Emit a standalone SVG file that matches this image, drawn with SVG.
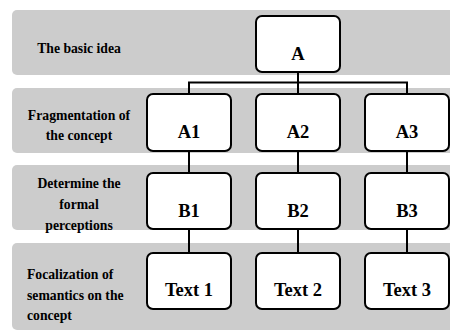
<svg xmlns="http://www.w3.org/2000/svg" width="450" height="331" viewBox="0 0 450 331">
<style>
.band{fill:#cccccc}
.lbl{font-family:"Liberation Serif","Times New Roman",serif;font-weight:bold;font-size:13.7px;fill:#000}
.box{fill:#fff;stroke:#000;stroke-width:2}
.nt{font-family:"Liberation Serif","Times New Roman",serif;font-weight:bold;font-size:18.5px;fill:#000;text-anchor:middle}
.con{fill:none;stroke:#000;stroke-width:2}
</style>
<rect width="450" height="331" fill="#fff"/>
<g id="bands">
<rect class="band" x="12" y="10" width="450" height="65" rx="5"/>
<rect class="band" x="12" y="88" width="450" height="65" rx="5"/>
<rect class="band" x="12" y="165" width="450" height="65" rx="5"/>
<rect class="band" x="12" y="243" width="450" height="87" rx="5"/>
</g>
<g id="band-labels">
<text class="lbl" x="79" y="53" text-anchor="middle">The basic idea</text>
<text class="lbl" x="79" y="120" text-anchor="middle">Fragmentation of</text>
<text class="lbl" x="79" y="140" text-anchor="middle">the concept</text>
<text class="lbl" x="79" y="187.5" text-anchor="middle">Determine the</text>
<text class="lbl" x="79" y="208.5" text-anchor="middle">formal</text>
<text class="lbl" x="79" y="229.5" text-anchor="middle">perceptions</text>
<text class="lbl" x="27" y="278.5">Focalization of</text>
<text class="lbl" x="27" y="299.5">semantics on the</text>
<text class="lbl" x="27" y="320">concept</text>
</g>
<g id="connectors">
<path class="con" d="M298 72V82.5M189 94V82.5H407V94M298 82.5V94"/>
<path class="con" d="M189 151V173M298 151V173M407 151V173"/>
<path class="con" d="M189 229V253M298 229V253M407 229V253"/>
</g>
<g id="node-A"><rect class="box" x="256" y="16" width="84" height="56" rx="6"/><text class="nt" x="298" y="59.5">A</text></g>
<g id="node-A1"><rect class="box" x="147" y="94" width="84" height="57" rx="6"/><text class="nt" x="189" y="138">A1</text></g>
<g id="node-A2"><rect class="box" x="256" y="94" width="84" height="57" rx="6"/><text class="nt" x="298" y="138">A2</text></g>
<g id="node-A3"><rect class="box" x="365" y="94" width="84" height="57" rx="6"/><text class="nt" x="407" y="138">A3</text></g>
<g id="node-B1"><rect class="box" x="147" y="173" width="84" height="56" rx="6"/><text class="nt" x="189" y="216.7">B1</text></g>
<g id="node-B2"><rect class="box" x="256" y="173" width="84" height="56" rx="6"/><text class="nt" x="298" y="216.7">B2</text></g>
<g id="node-B3"><rect class="box" x="365" y="173" width="84" height="56" rx="6"/><text class="nt" x="407" y="216.7">B3</text></g>
<g id="node-T1"><rect class="box" x="147" y="253" width="84" height="56" rx="6"/><text class="nt" x="189" y="296">Text 1</text></g>
<g id="node-T2"><rect class="box" x="256" y="253" width="84" height="56" rx="6"/><text class="nt" x="298" y="296">Text 2</text></g>
<g id="node-T3"><rect class="box" x="365" y="253" width="84" height="56" rx="6"/><text class="nt" x="407" y="296">Text 3</text></g>
</svg>
